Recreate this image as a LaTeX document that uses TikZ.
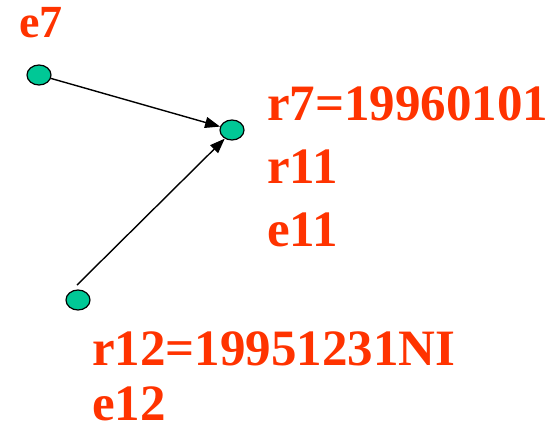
\documentclass[tikz,border=0pt]{standalone}
\usepackage{fontspec}
\setmainfont{Liberation Serif}
\usetikzlibrary{arrows.meta,shapes.geometric}
\definecolor{lbl}{HTML}{FF3300}
\definecolor{dotfill}{HTML}{00C896}
\begin{document}
\begin{tikzpicture}[x=1pt,y=-1pt,
  dot/.style={ellipse,draw=black,line width=1.2pt,fill=dotfill,minimum width=24pt,minimum height=20pt,inner sep=0pt},
  lab/.style={anchor=base west,inner sep=0pt,text=lbl,font=\fontsize{51}{51}\selectfont\bfseries},
  smalllab/.style={anchor=base west,inner sep=0pt,text=lbl,font=\fontsize{46}{46}\selectfont\bfseries},
  arr/.style={line width=1.4pt,-{Triangle[length=15pt,width=11pt]}}]
\useasboundingbox (0,0) rectangle (559,432);
\node[dot] (e7) at (39,75) {};
\node[dot] (r7) at (232,130) {};
\node[dot] (e12) at (78,300) {};
\coordinate (e12s) at (77,285);
\node[smalllab] (te7) at (19,37) {e7};
\node[lab] (tr7) at (267,120) {r7=19960101};
\node[lab] (tr11) at (267,183) {r11};
\node[lab] (te11) at (267,246) {e11};
\node[lab] (tr12) at (92,365) {r12=19951231NI};
\node[lab] (te12) at (92,420) {e12};
\draw[arr] (e7) -- (r7);
\draw[arr] (e12s) -- (r7.230);
\end{tikzpicture}
\end{document}
